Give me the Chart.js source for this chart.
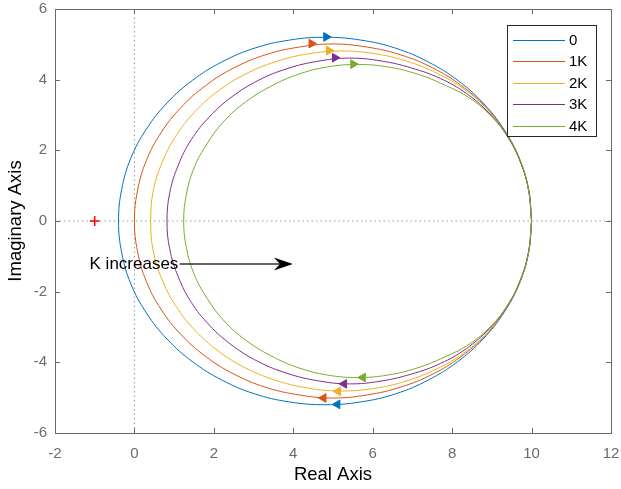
<!DOCTYPE html>
<html>
<head>
<meta charset="utf-8">
<script src="https://cdn.jsdelivr.net/npm/chart.js@4/dist/chart.umd.min.js"></script>
<style>
  html, body { margin: 0; padding: 0; background: #fff; }
  #wrap { width: 621px; height: 489px; }
</style>
</head>
<body>
<div id="wrap"><canvas id="nyq" width="621" height="489"></canvas></div>
<script>
// Series names and colours (MATLAB default order)
const seriesNames = ['0', '1K', '2K', '3K', '4K'];
const seriesColors = ['#0072BD', '#D95319', '#EDB120', '#7E2F8E', '#77AC30'];

// Nyquist loops: (10,0) -> upper half -> lower half -> (10,0)
const k0X = [10, 9.92, 9.69, 9.30, 8.78, 8.14, 7.40, 6.58, 5.70, 4.80, 3.90, 3.02, 2.20, 1.46, 0.82, 0.30, -0.09, -0.32, -0.40,
             -0.32, -0.09, 0.30, 0.82, 1.46, 2.20, 3.02, 3.90, 4.80, 5.70, 6.58, 7.40, 8.14, 8.78, 9.30, 9.69, 9.92, 10];
const k0Y = [0, 0.90, 1.78, 2.60, 3.34, 3.98, 4.50, 4.89, 5.12, 5.20, 5.12, 4.89, 4.50, 3.98, 3.34, 2.60, 1.78, 0.90, 0,
             -0.90, -1.78, -2.60, -3.34, -3.98, -4.50, -4.89, -5.12, -5.20, -5.12, -4.89, -4.50, -3.98, -3.34, -2.60, -1.78, -0.90, 0];

const k1X = [10, 9.92, 9.70, 9.33, 8.83, 8.21, 7.50, 6.71, 5.87, 5.00, 4.13, 3.29, 2.50, 1.79, 1.17, 0.67, 0.30, 0.08, 0.00,
             0.08, 0.30, 0.67, 1.17, 1.79, 2.50, 3.29, 4.13, 5.00, 5.87, 6.71, 7.50, 8.21, 8.83, 9.33, 9.70, 9.92, 10];
const k1Y = [0, 0.89, 1.73, 2.52, 3.24, 3.85, 4.34, 4.70, 4.92, 5.01, 4.92, 4.70, 4.33, 3.83, 3.21, 2.50, 1.71, 0.87, 0,
             -0.87, -1.71, -2.50, -3.21, -3.83, -4.33, -4.70, -4.92, -5.01, -4.92, -4.70, -4.34, -3.85, -3.24, -2.52, -1.73, -0.89, 0];

const k2X = [10, 9.93, 9.71, 9.36, 8.88, 8.29, 7.60, 6.84, 6.03, 5.20, 4.37, 3.56, 2.80, 2.11, 1.52, 1.04, 0.69, 0.47, 0.41,
             0.47, 0.69, 1.04, 1.52, 2.11, 2.80, 3.56, 4.37, 5.20, 6.03, 6.84, 7.60, 8.29, 8.88, 9.36, 9.71, 9.93, 10];
const k2Y = [0, 0.87, 1.69, 2.44, 3.16, 3.74, 4.19, 4.53, 4.74, 4.81, 4.73, 4.51, 4.16, 3.68, 3.09, 2.40, 1.64, 0.83, 0,
             -0.83, -1.64, -2.40, -3.09, -3.68, -4.16, -4.51, -4.73, -4.81, -4.74, -4.53, -4.19, -3.74, -3.16, -2.44, -1.69, -0.87, 0];

const k3X = [10, 9.93, 9.72, 9.39, 8.93, 8.36, 7.71, 6.98, 6.21, 5.41, 4.61, 3.84, 3.12, 2.46, 1.89, 1.43, 1.10, 0.89, 0.82,
             0.89, 1.10, 1.43, 1.89, 2.46, 3.12, 3.84, 4.61, 5.41, 6.21, 6.98, 7.71, 8.36, 8.93, 9.39, 9.72, 9.93, 10];
const k3Y = [0, 0.86, 1.67, 2.40, 3.05, 3.61, 4.03, 4.33, 4.53, 4.61, 4.52, 4.31, 3.98, 3.52, 2.95, 2.30, 1.57, 0.80, 0,
             -0.80, -1.57, -2.30, -2.95, -3.52, -3.98, -4.31, -4.52, -4.61, -4.53, -4.33, -4.03, -3.61, -3.05, -2.40, -1.67, -0.86, 0];

const k4X = [10, 9.93, 9.74, 9.41, 8.98, 8.44, 7.81, 7.12, 6.38, 5.62, 4.86, 4.12, 3.43, 2.80, 2.26, 1.83, 1.50, 1.31, 1.24,
             1.31, 1.50, 1.83, 2.26, 2.80, 3.43, 4.12, 4.86, 5.62, 6.38, 7.12, 7.81, 8.44, 8.98, 9.41, 9.74, 9.93, 10];
const k4Y = [0, 0.85, 1.64, 2.37, 2.97, 3.48, 3.85, 4.16, 4.36, 4.43, 4.36, 4.15, 3.81, 3.37, 2.83, 2.19, 1.50, 0.76, 0,
             -0.76, -1.50, -2.19, -2.83, -3.37, -3.81, -4.15, -4.36, -4.43, -4.36, -4.16, -3.85, -3.48, -2.97, -2.37, -1.64, -0.85, 0];

// Direction arrows (one on the upper and one on the lower half of each loop)
const upArrowX = [4.83, 4.46, 4.90, 5.05, 5.51];
const upArrowY = [5.21, 5.02, 4.82, 4.62, 4.44];
const lowArrowX = [5.11, 4.76, 5.13, 5.28, 5.75];
const lowArrowY = [-5.19, -5.01, -4.82, -4.61, -4.43];

// Critical point
const critX = [-1];
const critY = [0];

// Axis ticks
const xTickVals = [-2, 0, 2, 4, 6, 8, 10, 12];
const yTickVals = [-6, -4, -2, 0, 2, 4, 6];

const loopsX = [k0X, k1X, k2X, k3X, k4X];
const loopsY = [k0Y, k1Y, k2Y, k3Y, k4Y];

const FONT = "'Liberation Sans', Arial, Helvetica, sans-serif";
const AXIS_GREY = '#6a6a6a';

function toPoints(xs, ys) {
    return xs.map((x, i) => ({ x: x, y: ys[i] }));
}

const datasets = [];

// dotted zero lines
datasets.push({
    data: [{ x: -2, y: 0 }, { x: 12, y: 0 }],
    showLine: true, borderColor: '#9a9a9a', borderWidth: 1, borderDash: [1.5, 3],
    pointRadius: 0, order: 30
});
datasets.push({
    data: [{ x: 0, y: -6 }, { x: 0, y: 6 }],
    showLine: true, borderColor: '#9a9a9a', borderWidth: 1, borderDash: [1.5, 3],
    pointRadius: 0, order: 30
});

// loops
loopsX.forEach((xs, i) => {
    datasets.push({
        label: seriesNames[i],
        data: toPoints(xs, loopsY[i]),
        showLine: true,
        borderColor: seriesColors[i],
        borderWidth: 1,
        tension: 0.4,
        pointRadius: 0,
        order: 20 - i
    });
});

// arrow heads
seriesColors.forEach((c, i) => {
    datasets.push({
        data: [{ x: upArrowX[i], y: upArrowY[i] }],
        pointStyle: 'triangle', rotation: 90, pointRadius: 5,
        backgroundColor: c, borderColor: c, borderWidth: 1,
        order: 10 - i
    });
    datasets.push({
        data: [{ x: lowArrowX[i], y: lowArrowY[i] }],
        pointStyle: 'triangle', rotation: -90, pointRadius: 5,
        backgroundColor: c, borderColor: c, borderWidth: 1,
        order: 10 - i
    });
});

// red cross at -1
datasets.push({
    data: toPoints(critX, critY),
    pointStyle: 'cross', pointRadius: 5, borderColor: '#ff0000', borderWidth: 1.5,
    order: 0
});

// box with inward tick marks
const boxAxes = {
    id: 'boxAxes',
    afterDatasetsDraw(chart) {
        const { ctx, chartArea: a, scales } = chart;
        ctx.save();
        ctx.strokeStyle = AXIS_GREY;
        ctx.lineWidth = 1;
        ctx.strokeRect(Math.round(a.left) + 0.5, Math.round(a.top) + 0.5,
            Math.round(a.right - a.left), Math.round(a.bottom - a.top));
        const len = 5;
        ctx.beginPath();
        xTickVals.forEach(v => {
            const px = Math.round(scales.x.getPixelForValue(v)) + 0.5;
            ctx.moveTo(px, a.bottom); ctx.lineTo(px, a.bottom - len);
            ctx.moveTo(px, a.top); ctx.lineTo(px, a.top + len);
        });
        yTickVals.forEach(v => {
            const py = Math.round(scales.y.getPixelForValue(v)) + 0.5;
            ctx.moveTo(a.left, py); ctx.lineTo(a.left + len, py);
            ctx.moveTo(a.right, py); ctx.lineTo(a.right - len, py);
        });
        ctx.stroke();
        ctx.restore();
    }
};

// "K increases" annotation
const annot = {
    id: 'annot',
    afterDatasetsDraw(chart) {
        const { ctx, scales } = chart;
        const tx = scales.x.getPixelForValue(-1.13);
        const ty = scales.y.getPixelForValue(-1.22);
        const x0 = scales.x.getPixelForValue(1.14);
        const x1 = scales.x.getPixelForValue(3.99);
        ctx.save();
        ctx.font = '17px ' + FONT;
        ctx.fillStyle = '#000';
        ctx.textAlign = 'left';
        ctx.textBaseline = 'middle';
        ctx.fillText('K increases', tx, ty);
        ctx.strokeStyle = '#333';
        ctx.lineWidth = 1.5;
        ctx.beginPath();
        ctx.moveTo(x0, ty); ctx.lineTo(x1 - 12, ty);
        ctx.stroke();
        ctx.fillStyle = '#000';
        ctx.beginPath();
        ctx.moveTo(x1, ty);
        ctx.lineTo(x1 - 19, ty - 6.5);
        ctx.lineTo(x1 - 13, ty);
        ctx.lineTo(x1 - 19, ty + 6.5);
        ctx.closePath();
        ctx.fill();
        ctx.restore();
    }
};

// legend box in the upper right corner
const boxLegend = {
    id: 'boxLegend',
    afterDraw(chart) {
        const { ctx, chartArea: a } = chart;
        const left = a.right - 104, top = a.top + 16, w = 89, h = 111;
        ctx.save();
        ctx.fillStyle = '#fff';
        ctx.fillRect(left, top, w, h);
        ctx.strokeStyle = '#262626';
        ctx.lineWidth = 1;
        ctx.strokeRect(Math.round(left) + 0.5, Math.round(top) + 0.5, w, h);
        ctx.font = '15px ' + FONT;
        ctx.textAlign = 'left';
        ctx.textBaseline = 'middle';
        seriesNames.forEach((name, i) => {
            const y = top + 14.5 + i * 21.6;
            ctx.strokeStyle = seriesColors[i];
            ctx.lineWidth = 1;
            ctx.beginPath();
            ctx.moveTo(left + 6, Math.round(y) + 0.5);
            ctx.lineTo(left + 58, Math.round(y) + 0.5);
            ctx.stroke();
            ctx.fillStyle = '#000';
            ctx.fillText(name, left + 62, y + 1);
        });
        ctx.restore();
    }
};

new Chart(document.getElementById('nyq'), {
    type: 'scatter',
    data: { datasets: datasets },
    options: {
        responsive: false,
        animation: false,
        layout: { padding: { top: 9, right: 10, left: 0, bottom: 0 } },
        plugins: {
            legend: { display: false },
            tooltip: { enabled: false }
        },
        scales: {
            x: {
                type: 'linear', min: -2, max: 12,
                afterFit: s => { s.height = 56; s.paddingLeft = 0; s.paddingRight = 0; },
                afterBuildTicks: s => { s.ticks = xTickVals.map(v => ({ value: v })); },
                grid: { display: false, drawTicks: false },
                border: { display: false },
                ticks: { color: AXIS_GREY, font: { family: FONT, size: 15 }, padding: 12 },
                title: { display: true, text: 'Real Axis', color: '#000',
                    font: { family: FONT, size: 18.5 }, padding: { bottom: 3 } }
            },
            y: {
                type: 'linear', min: -6, max: 6,
                afterFit: s => { s.width = 55; s.paddingTop = 0; s.paddingBottom = 0; },
                afterBuildTicks: s => { s.ticks = yTickVals.map(v => ({ value: v })); },
                grid: { display: false, drawTicks: false },
                border: { display: false },
                ticks: { color: AXIS_GREY, font: { family: FONT, size: 15 }, padding: 8 },
                title: { display: true, text: 'Imaginary Axis', color: '#000',
                    font: { family: FONT, size: 18.5 }, padding: { top: 5 } }
            }
        }
    },
    plugins: [boxAxes, annot, boxLegend]
});
</script>
</body>
</html>
